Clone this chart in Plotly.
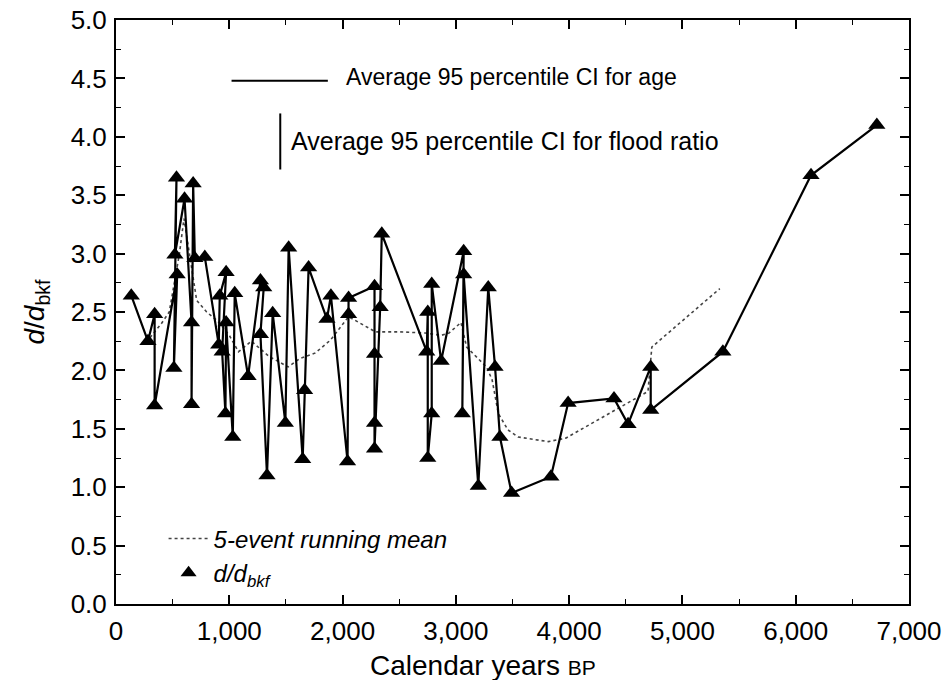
import plotly.graph_objects as go

# ---- data: flood events (calendar years BP, d/d_bkf) in plotted order ----
age = [135, 282, 341, 341, 540, 511, 534, 520, 605, 667, 667, 681, 696, 784,
       907, 916, 972, 937, 966, 972, 1031, 1048, 1166, 1275, 1304, 1275, 1333,
       1383, 1495, 1524, 1648, 1665, 1700, 1862, 1897, 2044, 2053, 2053, 2282,
       2282, 2282, 2282, 2332, 2346, 2743, 2752, 2752, 2787, 2787, 2870, 3069,
       3057, 3069, 3198, 3286, 3346, 3389, 3492, 3839, 3991, 4396, 4520, 4720,
       4720, 5357, 6135, 6716]
ratio = [2.64, 2.25, 2.48, 1.70, 2.82, 2.02, 3.65, 2.99, 3.47, 2.41, 1.71, 3.60,
         2.96, 2.97, 2.22, 2.64, 2.84, 2.16, 1.63, 2.41, 1.43, 2.66, 1.95, 2.77,
         2.71, 2.31, 1.10, 2.49, 1.55, 3.05, 1.24, 1.83, 2.88, 2.44, 2.64, 1.22,
         2.48, 2.62, 2.72, 2.14, 1.55, 1.33, 2.54, 3.17, 2.16, 2.50, 1.25, 1.63,
         2.74, 2.08, 3.02, 1.63, 2.82, 1.01, 2.71, 2.03, 1.43, 0.95, 1.09, 1.72,
         1.76, 1.54, 2.03, 1.66, 2.16, 3.67, 4.10]

# ---- 5-event running mean ----
rm_age = [300, 400, 470, 560, 600, 640, 712, 800, 900, 1000, 1081, 1195, 1350,
          1520, 1620, 1760, 1894, 2053, 2290, 2500, 2730, 2870, 2940, 3045, 3095,
          3270, 3320, 3375, 3460, 3550, 3730, 3815, 3970, 4300, 4696, 4730, 5330]
rm_val = [2.28, 2.40, 2.50, 3.00, 3.30, 3.05, 2.60, 2.50, 2.42, 2.30, 2.16, 2.25,
          2.12, 2.03, 2.10, 2.15, 2.26, 2.46, 2.33, 2.33, 2.32, 2.30, 2.32, 2.41,
          2.20, 2.03, 1.92, 1.63, 1.49, 1.43, 1.40, 1.39, 1.42, 1.60, 1.82, 2.20,
          2.70]

# ---- average 95 percentile confidence intervals (key glyphs) ----
ci_age_x = [1020, 1870]
ci_age_y = [4.48, 4.48]
ci_ratio_x = [1450, 1450]
ci_ratio_y = [3.72, 4.20]

x_ticks = [0, 1000, 2000, 3000, 4000, 5000, 6000, 7000]
y_ticks = [0.0, 0.5, 1.0, 1.5, 2.0, 2.5, 3.0, 3.5, 4.0, 4.5, 5.0]

FONT = "Liberation Sans"

fig = go.Figure()

fig.add_trace(go.Scatter(
    x=rm_age, y=rm_val, mode="lines",
    line=dict(color="#444444", width=1.6, dash="dot"),
    name="5-event running mean", showlegend=True))

fig.add_trace(go.Scatter(
    x=age, y=ratio, mode="lines+markers",
    line=dict(color="black", width=2.2),
    marker=dict(symbol="triangle-up", size=15, color="black"),
    showlegend=False))

fig.add_trace(go.Scatter(
    x=[None], y=[None], mode="markers",
    marker=dict(symbol="triangle-up", size=14, color="black"),
    name="<i>d</i>/<i>d</i><sub>bkf</sub>", showlegend=True))

fig.add_trace(go.Scatter(x=ci_age_x, y=ci_age_y, mode="lines",
                         line=dict(color="black", width=2), showlegend=False))
fig.add_trace(go.Scatter(x=ci_ratio_x, y=ci_ratio_y, mode="lines",
                         line=dict(color="black", width=2), showlegend=False))

fig.add_annotation(x=2010, y=ci_age_y[0] + 0.03, xanchor="left", yanchor="middle",
                   text="Average 95 percentile CI for age", showarrow=False,
                   font=dict(family=FONT, size=23, color="black"))
fig.add_annotation(x=1525, y=sum(ci_ratio_y) / 2, xanchor="left", yanchor="middle",
                   text="Average 95 percentile CI for flood ratio", showarrow=False,
                   font=dict(family=FONT, size=25, color="black"))

# x-axis title (placed as in the original, slightly left of centre)
fig.add_annotation(xref="paper", yref="paper", x=0.463, y=-0.106,
                   xanchor="center", yanchor="middle", showarrow=False,
                   text="Calendar years <span style='font-size:21px'>BP</span>",
                   font=dict(family=FONT, size=28, color="black"))

axis_common = dict(showline=True, linecolor="black", linewidth=2, mirror="ticks",
                   ticks="inside", ticklen=9, tickwidth=1.5, tickcolor="black",
                   showgrid=False, zeroline=False, automargin=False,
                   tickfont=dict(family=FONT, size=26, color="black"))

fig.update_xaxes(range=[0, 7000], tickvals=x_ticks, tickformat=",d",
                 ticklabelstandoff=3,
                 minor=dict(dtick=500, ticklen=5, tickwidth=1.2, tickcolor="black",
                            ticks="inside", showgrid=False),
                 **axis_common)
fig.update_yaxes(range=[0, 5], tickvals=y_ticks, tickformat=".1f",
                 ticklabelstandoff=2,
                 minor=dict(dtick=0.25, ticklen=5, tickwidth=1.2, tickcolor="black",
                            ticks="inside", showgrid=False),
                 title=dict(text="<i>d</i>/<i>d</i><sub>bkf</sub>",
                            font=dict(family=FONT, size=28, color="black"), standoff=18),
                 **axis_common)

fig.update_layout(
    width=945, height=680,
    margin=dict(l=116, r=36, t=20, b=76),
    paper_bgcolor="white", plot_bgcolor="white",
    legend=dict(x=0.06, y=0.15, xanchor="left", yanchor="top",
                bgcolor="rgba(0,0,0,0)",
                font=dict(family=FONT, size=24, color="black", style="italic"),
                tracegroupgap=0, itemwidth=40),
)

fig.write_html("out.html")
